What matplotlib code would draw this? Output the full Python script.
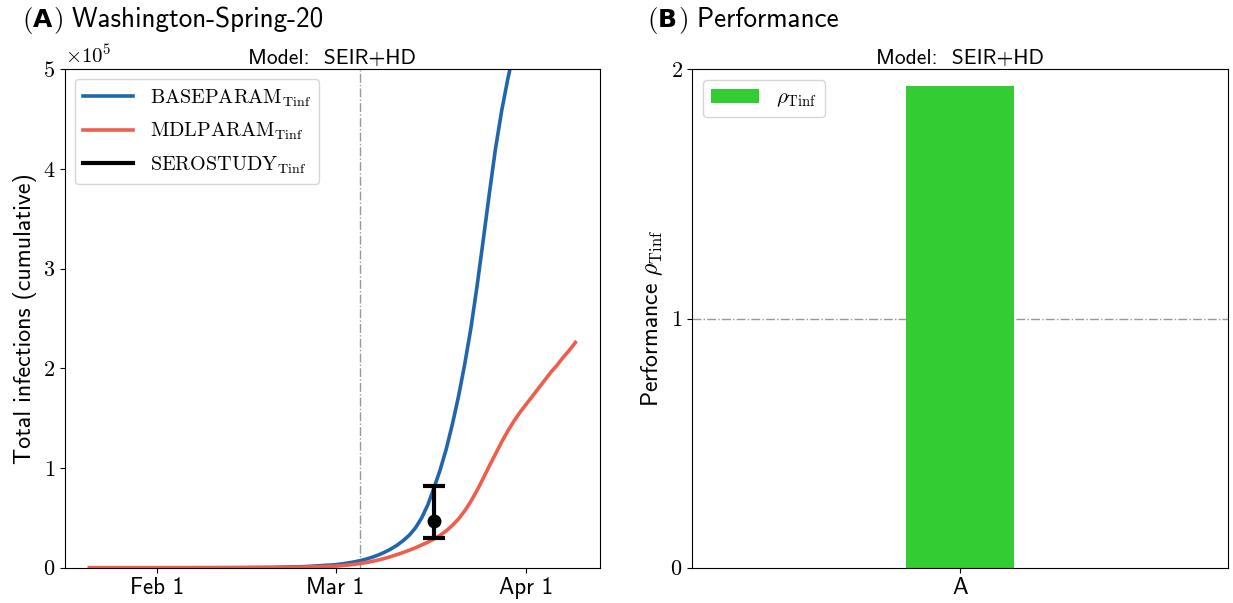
import numpy as np
import matplotlib
matplotlib.use("Agg")
import matplotlib.pyplot as plt
import matplotlib.dates as mdates
from matplotlib.ticker import FuncFormatter

plt.rcParams['font.family'] = ['cmss10', 'DejaVu Sans']
plt.rcParams['mathtext.fontset'] = 'cm'
plt.rcParams['axes.unicode_minus'] = False

# --- data (infections in thousands) ---
base_dates = ["2020-01-21", "2020-02-01", "2020-02-10", "2020-02-15", "2020-02-20",
              "2020-02-25", "2020-03-01", "2020-03-02", "2020-03-03", "2020-03-04",
              "2020-03-05", "2020-03-06", "2020-03-07", "2020-03-08", "2020-03-09",
              "2020-03-10", "2020-03-11", "2020-03-12", "2020-03-13", "2020-03-14",
              "2020-03-15", "2020-03-16", "2020-03-17", "2020-03-18", "2020-03-19",
              "2020-03-20", "2020-03-21", "2020-03-22", "2020-03-23", "2020-03-24",
              "2020-03-25", "2020-03-26", "2020-03-27", "2020-03-28", "2020-03-29",
              "2020-03-30", "2020-03-31", "2020-04-01"]
base_vals = [0.001, 0.01, 0.05, 0.15, 0.4, 1.1, 3.0, 3.8, 4.7, 5.8,
             7.1, 8.7, 10.6, 12.9, 15.6, 18.8, 22.6, 27.2, 32.7, 40,
             50, 63, 80, 98, 119, 144, 172, 204, 240, 282,
             328, 375, 420, 458, 490, 518, 544, 566]

mdl_dates = ["2020-01-21", "2020-02-01", "2020-02-10", "2020-02-20", "2020-02-25",
             "2020-03-01", "2020-03-02", "2020-03-03", "2020-03-04", "2020-03-05",
             "2020-03-06", "2020-03-07", "2020-03-08", "2020-03-09", "2020-03-10",
             "2020-03-11", "2020-03-12", "2020-03-13", "2020-03-14", "2020-03-15",
             "2020-03-16", "2020-03-17", "2020-03-18", "2020-03-19", "2020-03-20",
             "2020-03-21", "2020-03-22", "2020-03-23", "2020-03-24", "2020-03-25",
             "2020-03-26", "2020-03-27", "2020-03-28", "2020-03-29", "2020-03-30",
             "2020-03-31", "2020-04-01", "2020-04-02", "2020-04-03", "2020-04-04",
             "2020-04-05", "2020-04-06", "2020-04-07", "2020-04-08", "2020-04-09"]
mdl_vals = [0.001, 0.005, 0.03, 0.2, 0.6,
            1.6, 2.1, 2.7, 3.4, 4.2, 5.2, 6.4, 7.8, 9.4, 11.2,
            13.2, 15.3, 17.6, 20.0, 22.8, 25.6, 28.8, 32.5, 37, 42.5,
            49, 57, 66.5, 77.5, 89.5, 102, 114, 126, 137, 147,
            156, 164, 172, 180, 188, 196, 203, 211, 218, 226]

sero_date = "2020-03-17"
sero_val = 47
sero_low = 30
sero_high = 82

lockdown_date = "2020-03-05"

perf_labels = ["A"]
perf_vals = [1.933]

blue = '#2166ac'
red = '#ef5e4c'
green = '#33cc33'

fig = plt.figure(figsize=(12.33, 6.03), dpi=100)
ax1 = fig.add_axes([0.0527, 0.0585, 0.4339, 0.8265])
ax2 = fig.add_axes([0.5615, 0.0585, 0.4342, 0.8265])

# ---- panel A ----
bd = np.array(base_dates, dtype='datetime64[D]')
md = np.array(mdl_dates, dtype='datetime64[D]')
ax1.plot(bd, np.array(base_vals) * 1e3, color=blue, lw=2.6,
         label=r'$\mathrm{BASEPARAM}_{\mathrm{Tinf}}$')
ax1.plot(md, np.array(mdl_vals) * 1e3, color=red, lw=2.6,
         label=r'$\mathrm{MDLPARAM}_{\mathrm{Tinf}}$')
sd = np.datetime64(sero_date)
ax1.errorbar([sd], [sero_val * 1e3],
             yerr=[[(sero_val - sero_low) * 1e3], [(sero_high - sero_val) * 1e3]],
             fmt='o', color='k', ms=9, elinewidth=3, capsize=8, capthick=3, zorder=5)
ax1.plot([], [], color='k', lw=3, label=r'$\mathrm{SEROSTUDY}_{\mathrm{Tinf}}$')
ax1.axvline(np.datetime64(lockdown_date), color='#999999', lw=1, ls='-.', zorder=0)

ax1.set_xlim(np.datetime64("2020-01-17"), np.datetime64("2020-04-13"))
ax1.set_ylim(0, 5e5)
ax1.set_yticks(np.arange(0, 6) * 1e5)
ax1.yaxis.set_major_formatter(FuncFormatter(lambda v, p: r'$%d$' % round(v / 1e5)))
ax1.text(0.0, 1.005, r'$\times10^5$', transform=ax1.transAxes, fontsize=15,
         ha='left', va='bottom')
ax1.xaxis.set_major_locator(mdates.MonthLocator(bymonthday=1))
ax1.xaxis.set_major_formatter(FuncFormatter(
    lambda v, p: mdates.num2date(v).strftime('%b ') + str(mdates.num2date(v).day)))
ax1.tick_params(axis='x', labelsize=16.5)
ax1.tick_params(axis='y', labelsize=16)
ax1.set_ylabel('Total infections (cumulative)', fontsize=17.2)
ax1.set_title('Model:  SEIR+HD', fontsize=15.5, pad=4)
ax1.legend(loc='upper left', fontsize=14.5, handlelength=2.5, labelspacing=0.6)

# ---- panel B ----
ax2.bar(perf_labels, perf_vals, width=0.4, color=green, label=r'$\rho_{\mathrm{Tinf}}$')
ax2.axhline(1, color='#999999', lw=1, ls='-.', zorder=0)
ax2.set_xlim(-1, 1)
ax2.set_ylim(0, 2)
ax2.set_yticks([0, 1, 2])
ax2.yaxis.set_major_formatter(FuncFormatter(lambda v, p: r'$%d$' % round(v)))
ax2.tick_params(axis='x', labelsize=17)
ax2.tick_params(axis='y', labelsize=16)
ax2.set_ylabel(r'Performance $\rho_{\mathrm{Tinf}}$', fontsize=17)
ax2.set_title('Model:  SEIR+HD', fontsize=15.5, pad=4)
ax2.legend(loc='upper left', fontsize=15, handlelength=2.3)


# panel headings: "(" + bold "A" + ") title", pieces laid out left to right
def heading(x, y, letter, title):
    r = fig.canvas.get_renderer()
    pieces = [(r'$($', {}), (letter, dict(family='DejaVu Sans', fontweight='bold')),
              (r'$)$', {}), (' ' + title, {})]
    px = x * fig.bbox.width
    for s, kw in pieces:
        fs = 18 if kw else 19.5
        t = fig.text(px / fig.bbox.width, y, s, fontsize=fs, va='baseline', **kw)
        px = t.get_window_extent(r).x1 + (1 if kw else 0)


heading(0.0178, 0.955, 'A', 'Washington-Spring-20')
heading(0.5247, 0.955, 'B', 'Performance')

fig.savefig('out.png', dpi=100)
